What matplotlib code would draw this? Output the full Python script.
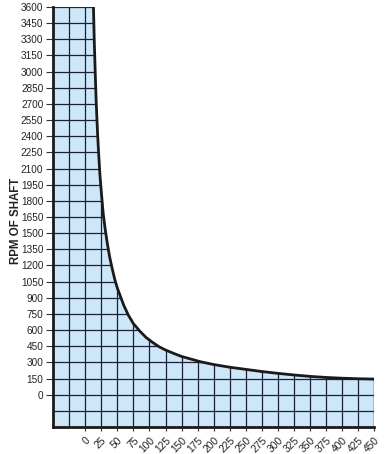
import matplotlib
matplotlib.use('Agg')
import matplotlib.pyplot as plt

plt.rcParams['font.family'] = ['Liberation Sans', 'DejaVu Sans']

# curve (load vs rpm of shaft)
load = [12.8, 14, 15.5, 17, 19, 20.6, 23, 25.5, 28, 31, 34.5, 38, 42, 46, 50,
        55, 60, 67, 75, 85, 95, 105, 115, 125, 137, 150, 165, 180, 200, 225,
        250, 275, 300, 325, 350, 375, 400, 425, 450]
rpm = [3600, 3300, 3000, 2730, 2450, 2268, 2030, 1850, 1680, 1540, 1400, 1280,
       1170, 1070, 990, 910, 830, 740, 660, 590, 530, 485, 445, 415, 385, 355,
       330, 305, 280, 255, 235, 215, 198, 183, 170, 160, 153, 148, 145]

y_ticks = list(range(0, 3601, 150))
x_ticks = list(range(0, 451, 25))

fill_col = '#cde6f8'
grid_col = '#1c1f3a'

fig = plt.figure(figsize=(3.85, 4.54), dpi=100)
ax = fig.add_axes([0.138, 0.0595, 0.834, 0.925])

# shaded region: everything left of / under the curve, down to the frame
poly = ax.fill_between([-50] + load, [3600] + rpm, -300,
                       facecolor=fill_col, edgecolor='none', zorder=1)
clip = poly.get_paths()[0]

for gx in range(-25, 451, 25):
    ln, = ax.plot([gx, gx], [-300, 3600], color=grid_col, lw=0.9, zorder=2)
    ln.set_clip_path(clip, ax.transData)
for gy in range(-150, 3601, 150):
    ln, = ax.plot([-50, 450], [gy, gy], color=grid_col, lw=0.9, zorder=2)
    ln.set_clip_path(clip, ax.transData)

ax.plot(load, rpm, color='#1a1a1a', lw=2.0, zorder=3,
        solid_joinstyle='round')
ax.plot([450, 450], [-300, 145], color=grid_col, lw=0.9, zorder=2)

ax.set_xlim(-50, 450)
ax.set_ylim(-300, 3600)

ax.spines['top'].set_visible(False)
ax.spines['right'].set_visible(False)
ax.spines['left'].set_linewidth(2)
ax.spines['bottom'].set_linewidth(2)
ax.spines['left'].set_color('#1a1a1a')
ax.spines['bottom'].set_color('#1a1a1a')

ax.set_yticks(y_ticks)
ax.set_yticklabels([str(v) for v in y_ticks])
ax.set_xticks(x_ticks)
ax.set_xticklabels([str(v) for v in x_ticks], rotation=45, ha='right',
                   rotation_mode='anchor')
ax.tick_params(axis='y', length=5, width=0.8, color='#333333', labelsize=7.2,
               pad=2, labelcolor='#222222')
ax.tick_params(axis='x', length=3, width=0.8, color='#333333', labelsize=7.4,
               pad=3, labelcolor='#222222')

ax.set_ylabel('RPM OF SHAFT', fontsize=8.3, fontweight='bold', color='#222222')
ax.yaxis.set_label_coords(-0.097, 0.49)

fig.savefig('out.png', dpi=100)
